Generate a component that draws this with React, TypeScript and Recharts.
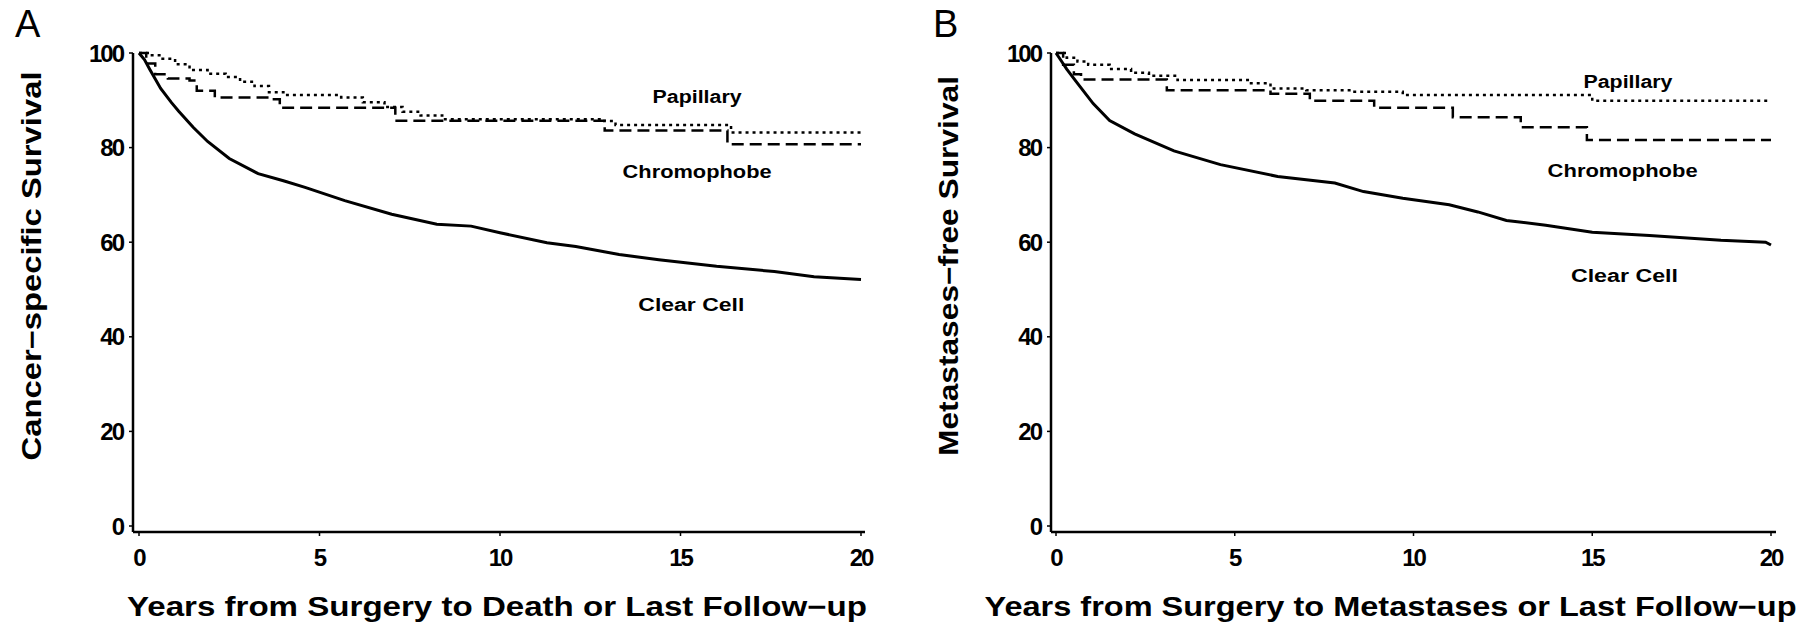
import React from 'react';
import { LineChart, Line, XAxis, YAxis, ReferenceDot, Label } from 'recharts';

const FONT = '"Liberation Sans", Arial, Helvetica, sans-serif';

const xTicks = [0, 5, 10, 15, 20];
const yTicks = [0, 20, 40, 60, 80, 100];

// [years, survival %]
const clearCellA: [number, number][] = [
  [0, 100], [0.15, 98.6], [0.3, 96.5], [0.6, 92.5], [0.9, 89.5], [1.1, 87.7], [1.5, 84.3], [1.9, 81.3],
  [2.5, 77.7], [3.3, 74.5], [4.0, 73], [4.6, 71.6], [5.7, 68.8], [7.0, 65.9], [8.25, 63.8], [9.2, 63.4],
  [10.0, 62], [11.3, 59.9], [12.1, 59.1], [13.3, 57.4], [14.4, 56.3], [16.0, 54.9], [17.6, 53.8],
  [18.7, 52.7], [20, 52.1],
];
const papillaryA: [number, number][] = [
  [0, 100], [0.3, 99.5], [0.6, 98.8], [1.0, 97.6], [1.4, 96.4], [1.9, 95.6], [2.4, 94.9], [2.8, 93.9],
  [3.2, 93.0], [3.6, 91.7], [4.0, 91.1], [5.6, 90.6], [6.2, 89.6], [6.8, 88.6], [7.3, 87.6],
  [7.8, 86.8], [8.4, 86.0], [12.8, 85.6], [13.2, 84.8], [16.4, 83.2], [20, 83.2],
];
const chromophobeA: [number, number][] = [
  [0, 100], [0.2, 97.8], [0.45, 95.5], [0.8, 94.6], [1.4, 94.2], [1.6, 92.0], [2.1, 90.6], [3.7, 90.2],
  [3.9, 88.4], [7.0, 88.4], [7.1, 85.7], [12.8, 85.7], [12.9, 83.6], [16.2, 83.6], [16.3, 80.7], [20, 80.7],
];

const clearCellB: [number, number][] = [
  [0, 100], [0.15, 98.3], [0.3, 96.6], [0.56, 94], [1.04, 89.3], [1.5, 85.7], [2.2, 82.9], [3.3, 79.3],
  [4.6, 76.4], [6.2, 73.9], [7.8, 72.5], [8.6, 70.7], [9.7, 69.3], [11.0, 67.9], [11.8, 66.4],
  [12.6, 64.6], [13.7, 63.6], [15.0, 62.1], [16.6, 61.4], [18.6, 60.4], [19.85, 60], [20, 59.4],
];
const papillaryB: [number, number][] = [
  [0, 100], [0.3, 99], [0.6, 98.2], [0.9, 97.5], [1.5, 96.6], [2.1, 95.8], [2.6, 95.2], [3.4, 94.3],
  [5.4, 93.6], [6.0, 92.5], [7.0, 92.1], [8.3, 91.8], [9.7, 91.1], [14.8, 91.1], [15.0, 89.9], [20, 89.9],
];
const chromophobeB: [number, number][] = [
  [0, 100], [0.2, 97.5], [0.5, 95.5], [0.7, 94.4], [3.1, 92.1], [6.0, 91.4], [7.1, 89.9], [8.9, 88.4],
  [11.1, 86.4], [13.0, 84.3], [14.85, 81.6], [20, 81.6],
];

const labelsA = [
  { text: 'Papillary', x: 15.46, y: 90.7, len: 89 },
  { text: 'Chromophobe', x: 15.46, y: 74.8, len: 149 },
  { text: 'Clear Cell', x: 15.3, y: 46.7, len: 106 },
];
const labelsB = [
  { text: 'Papillary', x: 16.0, y: 93.9, len: 89 },
  { text: 'Chromophobe', x: 15.85, y: 75.1, len: 150 },
  { text: 'Clear Cell', x: 15.9, y: 52.9, len: 107 },
];

const toRows = (pts: [number, number][]) => pts.map(([t, s]) => ({ t, s }));

interface PanelProps {
  letter: string;
  xTitle: string;
  xTitleLen: number;
  xTitleShift: number;
  yTitle: string;
  yTitleLen: number;
  yTitleX: number;
  clear: [number, number][];
  pap: [number, number][];
  chromo: [number, number][];
  labels: { text: string; x: number; y: number; len: number }[];
  margin: { top: number; right: number; bottom: number; left: number };
  padX: { left: number; right: number };
}

const tickStyle = { fill: '#000', fontSize: 24, fontWeight: 700, fontFamily: FONT, letterSpacing: -2 };
const axisStyle = { stroke: '#000', strokeWidth: 2.5 };

function Panel(p: PanelProps) {
  return (
    <div style={{ position: 'relative', width: 902, height: 627 }}>
      <div
        style={{
          position: 'absolute', left: p.letter === 'A' ? 15 : 31, top: 5, fontSize: 38,
          lineHeight: '38px', fontFamily: FONT, color: '#000',
        }}
      >
        {p.letter}
      </div>
      <LineChart width={902} height={627} margin={p.margin}>
        <XAxis
          dataKey="t"
          type="number"
          domain={[0, 20]}
          ticks={xTicks}
          tickSize={4}
          tickMargin={13}
          axisLine={axisStyle}
          tickLine={{ stroke: '#000', strokeWidth: 1.5 }}
          tick={tickStyle}
          padding={p.padX}
          height={60}
        >
          <Label
            content={({ viewBox }: any) => (
              <text
                x={viewBox.x + viewBox.width / 2 + p.xTitleShift}
                y={616}
                textAnchor="middle"
                textLength={p.xTitleLen}
                lengthAdjust="spacingAndGlyphs"
                style={{ fontSize: 27, fontWeight: 700, fontFamily: FONT, fill: '#000' }}
              >
                {p.xTitle}
              </text>
            )}
          />
        </XAxis>
        <YAxis
          type="number"
          domain={[0, 100]}
          ticks={yTicks}
          tickSize={4}
          tickMargin={6}
          axisLine={axisStyle}
          tickLine={{ stroke: '#000', strokeWidth: 1.5 }}
          tick={tickStyle}
          padding={{ top: 0, bottom: 6 }}
          width={60}
        >
          <Label
            content={() => (
              <text
                x={p.yTitleX}
                y={266}
                transform={`rotate(-90, ${p.yTitleX}, 266)`}
                textAnchor="middle"
                dominantBaseline="central"
                textLength={p.yTitleLen}
                lengthAdjust="spacingAndGlyphs"
                style={{ fontSize: 27, fontWeight: 700, fontFamily: FONT, fill: '#000' }}
              >
                {p.yTitle}
              </text>
            )}
          />
        </YAxis>
        <Line
          data={toRows(p.chromo)}
          dataKey="s"
          type="stepAfter"
          stroke="#000"
          strokeWidth={2.5}
          strokeDasharray="12 6"
          dot={false}
          isAnimationActive={false}
        />
        <Line
          data={toRows(p.pap)}
          dataKey="s"
          type="stepAfter"
          stroke="#000"
          strokeWidth={2.5}
          strokeDasharray="3 4"
          dot={false}
          isAnimationActive={false}
        />
        <Line
          data={toRows(p.clear)}
          dataKey="s"
          type="linear"
          stroke="#000"
          strokeWidth={3}
          dot={false}
          isAnimationActive={false}
        />
        {p.labels.map((l) => (
          <ReferenceDot
            key={l.text}
            x={l.x}
            y={l.y}
            r={0}
            shape={(sp: any) => (
              <text
                x={sp.cx}
                y={sp.cy}
                textAnchor="middle"
                dominantBaseline="central"
                textLength={l.len}
                lengthAdjust="spacingAndGlyphs"
                style={{ fontSize: 18, fontWeight: 700, fontFamily: FONT, fill: '#000' }}
              >
                {l.text}
              </text>
            )}
          />
        ))}
      </LineChart>
    </div>
  );
}

export default function App() {
  return (
    <div
      style={{
        position: 'absolute', left: 0, top: 0, width: 1804, height: 627, display: 'flex',
        background: '#fff',
      }}
    >
      <Panel
        letter="A"
        xTitle="Years from Surgery to Death or Last Follow−up"
        xTitleLen={740}
        xTitleShift={-2}
        yTitle="Cancer−specific Survival"
        yTitleLen={389}
        yTitleX={32}
        clear={clearCellA}
        pap={papillaryA}
        chromo={chromophobeA}
        labels={labelsA}
        margin={{ top: 53, right: 37, bottom: 35, left: 73 }}
        padX={{ left: 6, right: 4 }}
      />
      <Panel
        letter="B"
        xTitle="Years from Surgery to Metastases or Last Follow−up"
        xTitleLen={812}
        xTitleShift={-23}
        yTitle="Metastases−free Survival"
        yTitleLen={380}
        yTitleX={47}
        clear={clearCellB}
        pap={papillaryB}
        chromo={chromophobeB}
        labels={labelsB}
        margin={{ top: 53, right: 28, bottom: 35, left: 89 }}
        padX={{ left: 5, right: 5 }}
      />
    </div>
  );
}
